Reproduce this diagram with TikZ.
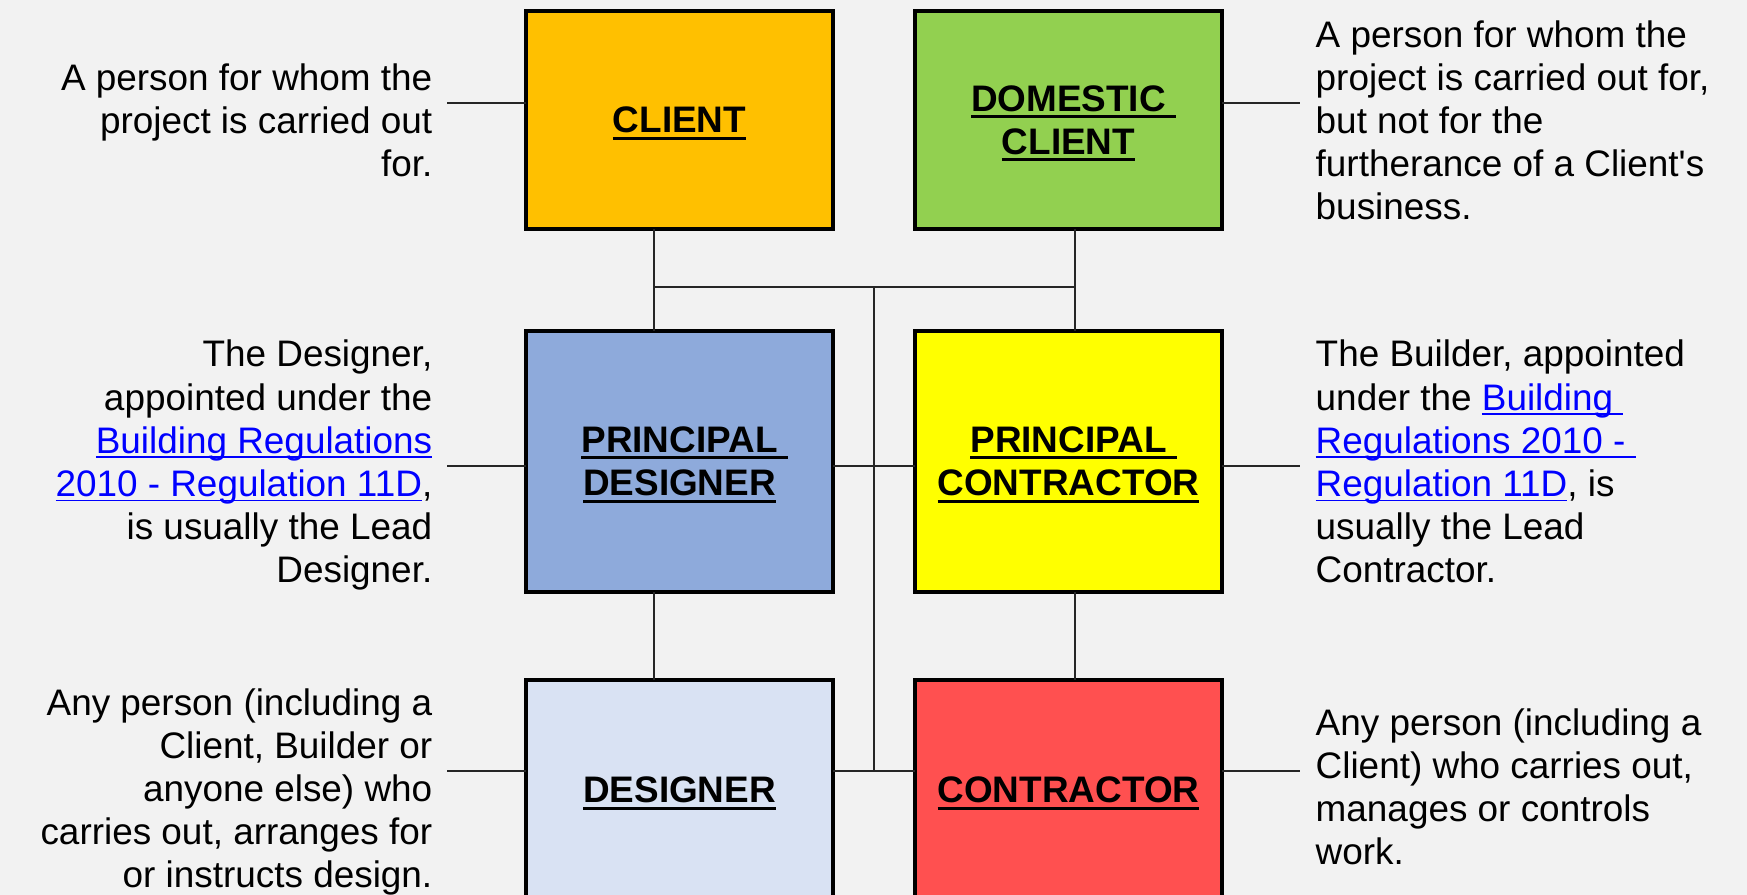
\documentclass[tikz,border=0pt]{standalone}
\usepackage{fontspec}
\setmainfont{Liberation Sans}
\usepackage{tkz-euclide}

\definecolor{bgc}{HTML}{F2F2F2}
\definecolor{clientc}{HTML}{FFC000}
\definecolor{domesticc}{HTML}{92D050}
\definecolor{pdesignc}{HTML}{8EAADB}
\definecolor{pcontractc}{HTML}{FFFF00}
\definecolor{designc}{HTML}{D9E2F3}
\definecolor{contractc}{HTML}{FF5050}
\definecolor{linkc}{HTML}{0000FF}

\newsavebox\ulsave
% bold underlined title, optional extra underline length (trailing space)
\newcommand{\titleline}[2][0pt]{\sbox\ulsave{#2}\rlap{\rule[-1.9pt]{\dimexpr\wd\ulsave+#1\relax}{0.85pt}}\usebox\ulsave}
% blue underlined reference
\newcommand{\reglink}[1]{\sbox\ulsave{\color{linkc}#1}\textcolor{linkc}{\rlap{\rule[-1.3pt]{\wd\ulsave}{0.45pt}}}\usebox\ulsave}

\tikzset{
  rolebox/.style={draw=black, line width=0.9pt, inner sep=0pt, outer sep=0pt, text depth=0pt,
    minimum width=30.7mm, align=center, font=\fontsize{10.5}{12.3}\selectfont\bfseries},
  roledesc/.style={inner sep=0pt, font=\fontsize{10.5}{12.3}\selectfont},
  wire/.style={line width=0.4pt, black!85},
}

\begin{document}
\begin{tikzpicture}[x=0.1mm, y=-0.1mm]
    \fill[bgc] (0,0) rectangle (1747,895);
    \useasboundingbox (0,0) rectangle (1747,895);
    \clip (0,0) rectangle (1747,895);

    \tkzDefPoints{679.5/120/Pcl, 1068.5/120/Pdc, 679.5/461.5/Ppd, 1068.5/461.5/Ppc}
    \tkzDefPoints{679.5/790/Pds, 1068.5/790/Pct}
    \tkzDefPoints{654/287/J1, 874/287/J2, 1075/287/J3, 874/466/J4, 874/771/J5}
    \tkzDefPoints{447/103/L1, 447/466/L2, 447/771/L3}
    \tkzDefPoints{1300/103/R1, 1300/466/R2, 1300/771/R3}

    % role boxes
    \node[rolebox, fill=clientc, minimum height=21.8mm] (cl) at (Pcl) {\titleline{CLIENT}};
    \node[rolebox, fill=domesticc, minimum height=21.8mm] (dc) at (Pdc)
        {\titleline[0.278em]{DOMESTIC}\\\titleline{CLIENT}};
    \node[rolebox, fill=pdesignc, minimum height=26.1mm] (pd) at (Ppd)
        {\titleline[0.278em]{PRINCIPAL}\\\titleline{DESIGNER}};
    \node[rolebox, fill=pcontractc, minimum height=26.1mm] (pc) at (Ppc)
        {\titleline[0.278em]{PRINCIPAL}\\\titleline{CONTRACTOR}};
    \node[rolebox, fill=designc, minimum height=22mm] (ds) at (Pds) {\titleline{DESIGNER}};
    \node[rolebox, fill=contractc, minimum height=22mm] (ct) at (Pct) {\titleline{CONTRACTOR}};

    % descriptions, left (anchored on the last line)
    \node[roledesc, anchor=base east, align=right] (tcl) at (433,177)
        {A person for whom the\\project is carried out\\for.};
    \node[roledesc, anchor=base east, align=right] (tpd) at (433,583)
        {The Designer,\\appointed under the\\\reglink{Building Regulations}\\
         \reglink{2010 - Regulation 11D},\\is usually the Lead\\Designer.};
    \node[roledesc, anchor=base east, align=right] (tds) at (433,888)
        {Any person (including a\\Client, Builder or\\anyone else) who\\
         carries out, arranges for\\or instructs design.};

    % descriptions, right
    \node[roledesc, anchor=base west, align=left] (tdc) at (1315,220)
        {A person for whom the\\project is carried out for,\\but not for the\\
         furtherance of a Client\textquotesingle s\\business.};
    \node[roledesc, anchor=base west, align=left] (tpc) at (1315,583)
        {The Builder, appointed\\under the \reglink{Building\ }\\\reglink{Regulations 2010 -\ }\\
         \reglink{Regulation 11D}, is\\usually the Lead\\Contractor.};
    \node[roledesc, anchor=base west, align=left] (tct) at (1315,865)
        {Any person (including a\\Client) who carries out,\\manages or controls\\work.};

    % connectors
    \draw[wire] (cl.south -| J1) -- (pd.north -| J1);
    \draw[wire] (dc.south -| J3) -- (pc.north -| J3);
    \tkzDrawSegments[wire](J1,J3 J2,J5)
    \draw[wire] (pd.east |- J4) -- (pc.west |- J4);
    \draw[wire] (pd.south -| J1) -- (ds.north -| J1);
    \draw[wire] (pc.south -| J3) -- (ct.north -| J3);
    \draw[wire] (ds.east |- J5) -- (ct.west |- J5);

    % leaders to the descriptions
    \draw[wire] (L1) -- (cl.west |- L1);
    \draw[wire] (L2) -- (pd.west |- L2);
    \draw[wire] (L3) -- (ds.west |- L3);
    \draw[wire] (dc.east |- R1) -- (R1);
    \draw[wire] (pc.east |- R2) -- (R2);
    \draw[wire] (ct.east |- R3) -- (R3);
\end{tikzpicture}
\end{document}
